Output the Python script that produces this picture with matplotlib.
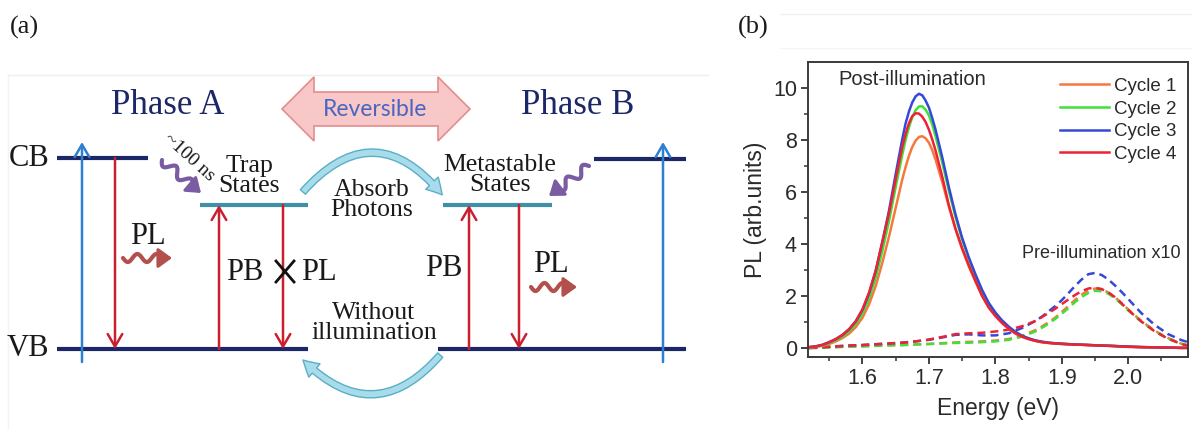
import numpy as np
import matplotlib.pyplot as plt
from matplotlib.patches import FancyArrowPatch, Polygon

# ---- panel (b) data: PL spectra, post-illumination (solid) and pre-illumination x10 (dashed)
cycles = ["Cycle 1", "Cycle 2", "Cycle 3", "Cycle 4"]
cycle_colors = ["#f7773d", "#3fe03a", "#3549d6", "#ec2336"]

e_post = [1.52, 1.53, 1.54, 1.55, 1.56, 1.57, 1.58, 1.59, 1.60, 1.61, 1.62, 1.63,
          1.64, 1.65, 1.66, 1.665, 1.67, 1.675, 1.68, 1.685, 1.69, 1.695, 1.70, 1.705,
          1.71, 1.72, 1.73, 1.74, 1.75, 1.76, 1.77, 1.78, 1.79, 1.80, 1.81, 1.82,
          1.83, 1.84, 1.85, 1.86, 1.87, 1.88, 1.89, 1.90, 1.92, 1.94, 1.96, 1.98,
          2.00, 2.02, 2.04, 2.06, 2.08, 2.09]
post_c1 = [0.03, 0.06, 0.10, 0.17, 0.27, 0.40, 0.57, 0.82, 1.18, 1.70, 2.40, 3.30,
           4.30, 5.40, 6.50, 6.98, 7.40, 7.74, 7.98, 8.12, 8.15, 8.07, 7.90, 7.62,
           7.25, 6.40, 5.45, 4.58, 3.82, 3.15, 2.57, 2.02, 1.58, 1.25, 0.98, 0.76,
           0.58, 0.45, 0.36, 0.29, 0.24, 0.21, 0.19, 0.17, 0.15, 0.13, 0.11, 0.09,
           0.06, 0.05, 0.04, 0.03, 0.02, 0.02]
post_c2 = [0.04, 0.07, 0.12, 0.21, 0.32, 0.46, 0.66, 0.94, 1.35, 1.93, 2.72, 3.75,
           4.90, 6.20, 7.45, 8.02, 8.50, 8.88, 9.15, 9.29, 9.30, 9.17, 8.95, 8.60,
           8.15, 7.15, 6.05, 5.05, 4.18, 3.45, 2.80, 2.20, 1.72, 1.35, 1.05, 0.82,
           0.62, 0.48, 0.38, 0.30, 0.25, 0.22, 0.19, 0.18, 0.15, 0.13, 0.11, 0.09,
           0.07, 0.05, 0.04, 0.03, 0.02, 0.02]
post_c3 = [0.05, 0.08, 0.14, 0.24, 0.36, 0.52, 0.74, 1.04, 1.48, 2.12, 2.98, 4.10,
           5.30, 6.70, 8.05, 8.65, 9.10, 9.45, 9.68, 9.78, 9.72, 9.52, 9.25, 8.85,
           8.40, 7.35, 6.20, 5.15, 4.25, 3.50, 2.85, 2.25, 1.75, 1.38, 1.08, 0.84,
           0.64, 0.49, 0.39, 0.31, 0.26, 0.22, 0.20, 0.18, 0.15, 0.13, 0.11, 0.09,
           0.07, 0.05, 0.04, 0.03, 0.02, 0.02]
post_c4 = [0.05, 0.08, 0.14, 0.24, 0.36, 0.52, 0.74, 1.05, 1.50, 2.15, 3.00, 4.10,
           5.20, 6.50, 7.75, 8.25, 8.65, 8.92, 9.03, 9.02, 8.90, 8.70, 8.40, 8.03,
           7.60, 6.60, 5.50, 4.60, 3.85, 3.20, 2.60, 2.02, 1.57, 1.25, 0.98, 0.76,
           0.58, 0.45, 0.36, 0.29, 0.24, 0.21, 0.19, 0.17, 0.15, 0.13, 0.11, 0.09,
           0.06, 0.05, 0.04, 0.03, 0.02, 0.02]

e_pre = [1.52, 1.54, 1.56, 1.58, 1.60, 1.62, 1.64, 1.66, 1.68, 1.70, 1.72, 1.74,
         1.76, 1.78, 1.80, 1.82, 1.84, 1.86, 1.87, 1.88, 1.89, 1.90, 1.91, 1.92,
         1.93, 1.94, 1.95, 1.96, 1.97, 1.98, 1.99, 2.00, 2.01, 2.02, 2.04, 2.06,
         2.08, 2.09]
pre_c1 = [0.01, 0.03, 0.05, 0.07, 0.08, 0.10, 0.12, 0.13, 0.15, 0.17, 0.20, 0.23,
          0.25, 0.27, 0.30, 0.36, 0.48, 0.70, 0.84, 1.00, 1.18, 1.40, 1.63, 1.86,
          2.07, 2.22, 2.30, 2.27, 2.15, 1.97, 1.74, 1.50, 1.27, 1.05, 0.68, 0.40,
          0.18, 0.12]
pre_c2 = [0.01, 0.03, 0.05, 0.07, 0.08, 0.10, 0.12, 0.13, 0.15, 0.17, 0.19, 0.21,
          0.22, 0.24, 0.27, 0.33, 0.45, 0.65, 0.79, 0.95, 1.13, 1.33, 1.55, 1.78,
          1.98, 2.13, 2.21, 2.20, 2.10, 1.93, 1.70, 1.46, 1.24, 1.02, 0.66, 0.38,
          0.18, 0.11]
pre_c3 = [0.02, 0.05, 0.08, 0.11, 0.13, 0.16, 0.19, 0.22, 0.27, 0.33, 0.42, 0.52,
          0.54, 0.50, 0.50, 0.58, 0.78, 1.05, 1.22, 1.42, 1.62, 1.85, 2.12, 2.40,
          2.65, 2.85, 2.90, 2.82, 2.65, 2.42, 2.17, 1.90, 1.62, 1.35, 0.90, 0.55,
          0.32, 0.24]
pre_c4 = [0.02, 0.05, 0.08, 0.11, 0.13, 0.16, 0.19, 0.22, 0.27, 0.34, 0.44, 0.55,
          0.58, 0.60, 0.65, 0.72, 0.85, 1.05, 1.20, 1.36, 1.52, 1.70, 1.88, 2.05,
          2.20, 2.30, 2.33, 2.28, 2.15, 1.97, 1.73, 1.48, 1.25, 1.03, 0.65, 0.37,
          0.17, 0.10]

post_curves = [post_c1, post_c2, post_c3, post_c4]
pre_curves = [pre_c1, pre_c2, pre_c3, pre_c4]

x_ticks = [1.6, 1.7, 1.8, 1.9, 2.0]
y_ticks = [0, 2, 4, 6, 8, 10]

W, H = 1192, 434
SERIF = ["Liberation Serif", "DejaVu Serif"]
SANS = ["Liberation Sans", "DejaVu Sans"]
NAVY = "#1b2766"
TEAL = "#3f90a6"
RED = "#c9202f"
BLUE = "#2c7fd3"

fig = plt.figure(figsize=(W / 100, H / 100), dpi=100)

# ---- panel (a): energy level scheme, drawn in pixel units
ax = fig.add_axes([0, 0, 1, 1])
ax.set_xlim(0, W)
ax.set_ylim(H, 0)
ax.axis("off")


def level(x0, x1, y, color):
    ax.plot([x0, x1], [y, y], color=color, lw=3.0, solid_capstyle="butt", zorder=3)


def varrow(x, y0, y1, color):
    ax.add_patch(FancyArrowPatch((x, y0), (x, y1), arrowstyle="->,head_length=0.6,head_width=0.35",
                                 mutation_scale=15, color=color, lw=1.8, zorder=4,
                                 shrinkA=0, shrinkB=0))


def wavy(x0, y0, x1, y1, color, waves=2.0, amp=4.0):
    d = np.hypot(x1 - x0, y1 - y0)
    ux, uy = (x1 - x0) / d, (y1 - y0) / d
    px, py = -uy, ux
    body = 0.78
    t = np.linspace(0, body, 120)
    s = amp * np.sin(2 * np.pi * waves * t / body)
    xs = x0 + ux * d * t + px * s
    ys = y0 + uy * d * t + py * s
    ax.plot(xs, ys, color=color, lw=3.0, solid_capstyle="round", zorder=4)
    ax.add_patch(FancyArrowPatch((xs[-1], ys[-1]), (x1, y1),
                                 arrowstyle="-|>,head_length=0.55,head_width=0.4",
                                 mutation_scale=15, color=color, lw=2.2, zorder=4,
                                 shrinkA=0, shrinkB=0))


def stext(x, y, s, size, color="#1a1a1a", **kw):
    ax.text(x, y, s, fontsize=size, color=color, family=SERIF, ha="center", va="center", **kw)


# faint frames around the panels
ax.plot([8, 708], [75, 75], color="#efefef", lw=1.0)
ax.plot([8, 8], [75, 428], color="#f3f3f3", lw=1.0)
ax.plot([780, 1192], [14, 14], color="#f2f2f2", lw=1.0)
ax.plot([780, 1192], [48, 48], color="#f5f5f5", lw=1.0)

ax.text(10, 27, "(a)", fontsize=19, family=SERIF, ha="left", va="center", color="#1a1a1a")
ax.text(738, 27, "(b)", fontsize=19, family=SERIF, ha="left", va="center", color="#1a1a1a")

# levels
level(57, 148, 158, NAVY)
level(57, 308, 349, NAVY)
level(200, 308, 205, TEAL)
level(443, 552, 205, TEAL)
level(594, 686, 159, NAVY)
level(438, 686, 349, NAVY)

# optical transitions
varrow(82, 362, 142, BLUE)
varrow(115, 158, 349, RED)
varrow(219, 349, 205, RED)
varrow(283, 205, 349, RED)
varrow(469, 349, 205, RED)
varrow(519, 205, 349, RED)
varrow(663, 362, 142, BLUE)

# emission / relaxation wiggles
wavy(123, 258, 172, 258, "#b4504c")
wavy(531, 287, 577, 287, "#b4504c")
wavy(162, 160, 201, 193, "#7a5ca2", waves=2.0, amp=4.5)
wavy(589, 166, 549, 196, "#7a5ca2", waves=2.0, amp=4.5)

# the crossed-out PL
ax.plot([276, 294], [261, 282], color="#111111", lw=2.0, zorder=5)
ax.plot([294, 276], [261, 282], color="#111111", lw=2.0, zorder=5)

# absorb photons / recovery in the dark
ax.add_patch(FancyArrowPatch((301, 194), (444, 197), connectionstyle="arc3,rad=-0.6",
                             arrowstyle="simple,tail_width=0.35,head_width=0.9,head_length=0.8",
                             mutation_scale=14, fc="#a9dcea", ec="#5aafc6", lw=1.0, zorder=3))
ax.add_patch(FancyArrowPatch((442, 353), (301, 358), connectionstyle="arc3,rad=-0.55",
                             arrowstyle="simple,tail_width=0.35,head_width=0.9,head_length=0.8",
                             mutation_scale=14, fc="#a9dcea", ec="#5aafc6", lw=1.0, zorder=3))

# double-headed "Reversible" arrow
cy = 109
rev = Polygon([(282, cy), (314, cy - 32), (314, cy - 17), (438, cy - 17), (438, cy - 32),
               (470, cy), (438, cy + 32), (438, cy + 17), (314, cy + 17), (314, cy + 32)],
              closed=True, fc="#f8c8c8", ec="#e48c8c", lw=1.2, zorder=2)
ax.add_patch(rev)
ax.text(375, cy + 1, "Reversible", fontsize=16.5, family=["Lato", "DejaVu Sans"],
        color="#4a64c2", ha="center", va="center", zorder=3)

# labels
stext(168, 106, "Phase A", 25, color=NAVY)
stext(578, 106, "Phase B", 25, color=NAVY)
ax.text(49, 158, "CB", fontsize=22, family=SERIF, ha="right", va="center", color="#1a1a1a")
ax.text(49, 349, "VB", fontsize=22, family=SERIF, ha="right", va="center", color="#1a1a1a")
stext(148, 236, "PL", 22)
stext(245, 272, "PB", 22)
stext(319, 272, "PL", 22)
stext(444, 268, "PB", 22)
stext(551, 265, "PL", 22)
stext(249, 176, "Trap\nStates", 18.5, linespacing=0.85)
stext(500, 175, "Metastable\nStates", 18.5, linespacing=0.85)
stext(372, 200, "Absorb\nPhotons", 18.5, linespacing=0.85)
stext(374, 323, "Without\nillumination", 18.5, linespacing=0.85)
stext(189, 157, "~100 ns", 14, rotation=-42)

# ---- panel (b): PL spectra
bx = fig.add_axes([808 / W, 1 - 357 / H, 380 / W, 295 / H])
for name, color, ys in zip(cycles, cycle_colors, pre_curves):
    bx.plot(e_pre, ys, color=color, lw=1.8, dashes=(3.2, 2.0))
for name, color, ys in zip(cycles, cycle_colors, post_curves):
    bx.plot(e_post, ys, color=color, lw=1.8, label=name)

bx.set_xlim(1.518, 2.09)
bx.set_ylim(-0.33, 11.0)
bx.set_xticks(x_ticks)
bx.set_xticklabels([f"{v:.1f}" for v in x_ticks])
bx.set_xticks([1.55, 1.65, 1.75, 1.85, 1.95, 2.05], minor=True)
bx.set_yticks(y_ticks)
bx.set_yticks([1, 3, 5, 7, 9], minor=True)
for lab in bx.get_xticklabels() + bx.get_yticklabels():
    lab.set_family(SANS)
    lab.set_fontsize(15.5)
    lab.set_color("#2a2a2a")
bx.tick_params(which="major", direction="out", length=5, width=1.3, color="#333333", pad=3)
bx.tick_params(which="minor", direction="out", length=3, width=1.1, color="#333333")
for sp in bx.spines.values():
    sp.set_linewidth(1.4)
    sp.set_color("#3a3a3a")

bx.set_xlabel("Energy (eV)", fontsize=16.5, family=SANS, color="#2a2a2a", labelpad=6)
bx.set_ylabel("PL (arb.units)", fontsize=16.5, family=SANS, color="#2a2a2a", labelpad=4)
bx.text(0.08, 0.94, "Post-illumination", transform=bx.transAxes, fontsize=14.5,
        family=SANS, color="#2a2a2a", ha="left", va="center")
bx.text(0.98, 0.35, "Pre-illumination x10", transform=bx.transAxes, fontsize=13,
        family=SANS, color="#2a2a2a", ha="right", va="center")
leg = bx.legend(loc="upper right", bbox_to_anchor=(1.0, 0.985), frameon=False,
                prop={"family": SANS, "size": 13.5}, handlelength=2.6, handletextpad=0.3,
                labelspacing=0.3, borderaxespad=0.2)
for t in leg.get_texts():
    t.set_color("#2a2a2a")

fig.savefig("out.png", dpi=100)
